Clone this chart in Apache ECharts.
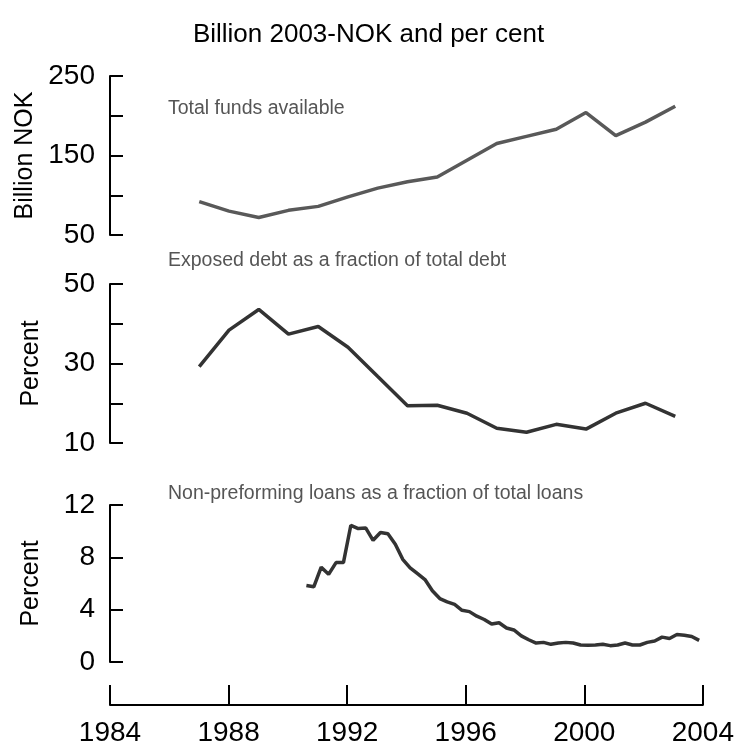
<!DOCTYPE html>
<html>
<head>
<meta charset="utf-8">
<script src="https://cdn.jsdelivr.net/npm/echarts@6/dist/echarts.min.js"></script>
<style>
html,body{margin:0;padding:0;background:#fff;}
#chart{width:737px;height:747px;}
</style>
</head>
<body>
<div id="chart"></div>
<script>
// ---- Data ----
const years = [1987,1988,1989,1990,1991,1992,1993,1994,1995,1996,1997,1998,1999,2000,2001,2002,2003];
const totalFunds = [92,80,72,81,86,98,109,117,123,144,165,174,183,204,175,192,212];
const exposedDebt = [29.2,38.4,43.6,37.4,39.3,34.1,26.7,19.4,19.5,17.5,13.7,12.7,14.7,13.5,17.5,20.0,16.7];
const quarters = ['1990Q3','1990Q4',
  '1991Q1','1991Q2','1991Q3','1991Q4',
  '1992Q1','1992Q2','1992Q3','1992Q4',
  '1993Q1','1993Q2','1993Q3','1993Q4',
  '1994Q1','1994Q2','1994Q3','1994Q4',
  '1995Q1','1995Q2','1995Q3','1995Q4',
  '1996Q1','1996Q2','1996Q3','1996Q4',
  '1997Q1','1997Q2','1997Q3','1997Q4',
  '1998Q1','1998Q2','1998Q3','1998Q4',
  '1999Q1','1999Q2','1999Q3','1999Q4',
  '2000Q1','2000Q2','2000Q3','2000Q4',
  '2001Q1','2001Q2','2001Q3','2001Q4',
  '2002Q1','2002Q2','2002Q3','2002Q4',
  '2003Q1','2003Q2','2003Q3','2003Q4'];
const nonPerforming = [5.85,5.75,
  7.25,6.7,7.6,7.6,
  10.45,10.2,10.25,9.3,
  9.9,9.8,9.0,7.85,
  7.2,6.75,6.3,5.45,
  4.85,4.6,4.4,3.95,
  3.85,3.5,3.25,2.9,
  3.0,2.6,2.45,2.0,
  1.7,1.45,1.5,1.35,
  1.45,1.5,1.45,1.3,
  1.28,1.3,1.35,1.25,
  1.3,1.45,1.3,1.3,
  1.5,1.6,1.9,1.8,
  2.1,2.05,1.95,1.65];
const xTicks = [1984,1988,1992,1996,2000,2004];
const panel1Labels = [50,150,250];
const panel2Labels = [10,30,50];
const panel3Labels = [0,4,8,12];
const titleText = 'Billion 2003-NOK and per cent';
const panelNotes = ['Total funds available','Exposed debt as a fraction of total debt','Non-preforming loans as a fraction of total loans'];
const yNames = ['Billion NOK','Percent','Percent'];

// ---- Build ----
const FONT = "'Liberation Sans', Arial, sans-serif";
function qToX(q){ const y = parseInt(q.slice(0,4),10); const n = parseInt(q.slice(5),10); return y + (n-0.5)/4; }
const pairs = (xs, ys) => xs.map((x,i)=>[x, ys[i]]);

const gridDefs = [
  {left:110, right:32, top:76, height:159},
  {left:110, right:32, top:284, height:159},
  {left:110, right:32, top:505, height:158}
];

function xAx(i){
  return {
    type:'value', gridIndex:i, min:xTicks[0], max:xTicks[xTicks.length-1], interval:4,
    show: i===2, offset: 43,
    axisLine:{show:true, onZero:false, lineStyle:{color:'#000', width:2}},
    axisTick:{show:true, inside:true, length:20, lineStyle:{color:'#000', width:2}},
    splitLine:{show:false},
    axisLabel:{fontSize:28, color:'#000', fontFamily:FONT, margin:14,
      formatter:v=> xTicks.includes(v) ? String(v) : ''}
  };
}
function yAx(i, min, max, interval, labels, gap){
  return {
    type:'value', gridIndex:i, min, max, interval,
    axisLine:{show:true, lineStyle:{color:'#000', width:2}},
    axisTick:{show:true, inside:true, length:13, lineStyle:{color:'#000', width:2}},
    splitLine:{show:false},
    axisLabel:{fontSize:28, color:'#000', fontFamily:FONT, margin:15,
      formatter:v=> labels.includes(v) ? String(v) : ''},
    name: yNames[i], nameLocation:'middle', nameGap:gap,
    nameTextStyle:{fontSize:25, color:'#000', fontFamily:FONT}
  };
}

const option = {
  animation:false,
  backgroundColor:'#fff',
  title:[
    {text:titleText, left:'center', top:17, textStyle:{fontSize:26, fontWeight:'normal', color:'#000', fontFamily:FONT}},
    {text:panelNotes[0], left:163, top:94, textStyle:{fontSize:19.5, fontWeight:'normal', color:'#555', fontFamily:FONT}},
    {text:panelNotes[1], left:163, top:246, textStyle:{fontSize:19.5, fontWeight:'normal', color:'#555', fontFamily:FONT}},
    {text:panelNotes[2], left:163, top:479, textStyle:{fontSize:19.5, fontWeight:'normal', color:'#555', fontFamily:FONT}}
  ],
  grid: gridDefs,
  xAxis:[xAx(0), xAx(1), xAx(2)],
  yAxis:[
    yAx(0, 50, 250, 50, panel1Labels, 70),
    yAx(1, 10, 50, 10, panel2Labels, 66),
    yAx(2, 0, 12, 4, panel3Labels, 66)
  ],
  series:[
    {type:'line', xAxisIndex:0, yAxisIndex:0, data:pairs(years, totalFunds), showSymbol:false,
      lineStyle:{color:'#595959', width:3.5}},
    {type:'line', xAxisIndex:1, yAxisIndex:1, data:pairs(years, exposedDebt), showSymbol:false,
      lineStyle:{color:'#333', width:3.5}},
    {type:'line', xAxisIndex:2, yAxisIndex:2, data:pairs(quarters.map(qToX), nonPerforming), showSymbol:false,
      lineStyle:{color:'#333', width:3.5}}
  ]
};
const chart = echarts.init(document.getElementById('chart'), null, {renderer:'canvas'});
chart.setOption(option);
</script>
</body>
</html>
